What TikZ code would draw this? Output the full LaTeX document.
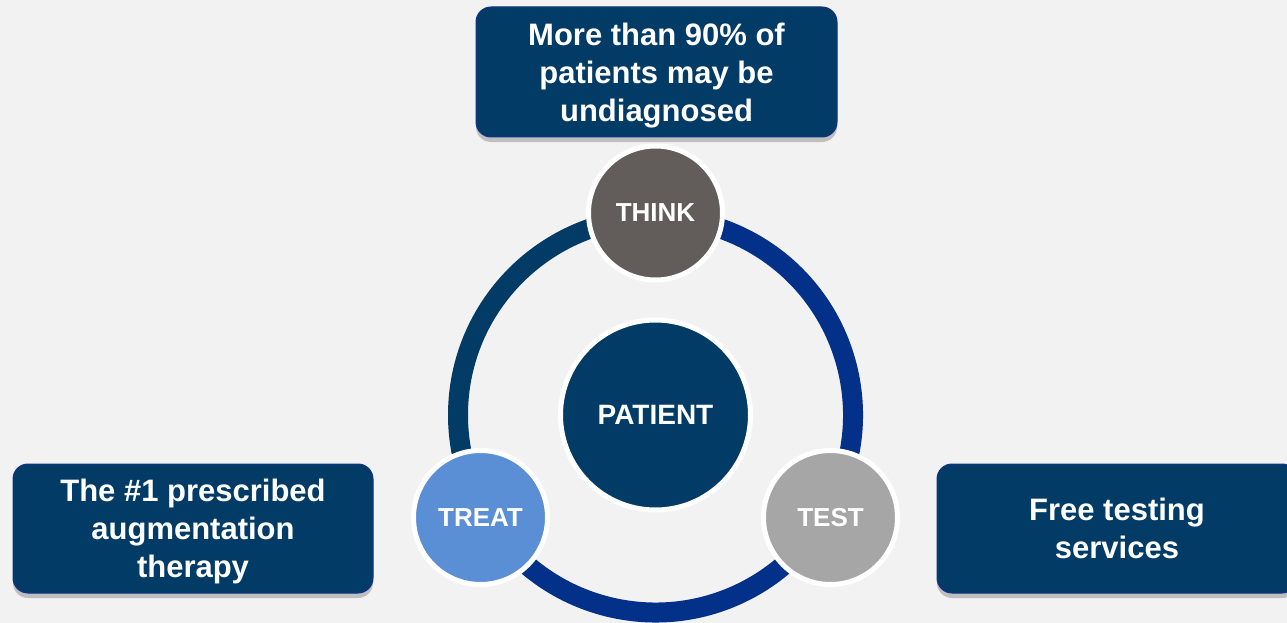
\documentclass[tikz,border=0pt]{standalone}
\usepackage{fontspec}
\setmainfont{Liberation Sans}
\usetikzlibrary{shadows}
\definecolor{bg}{HTML}{F2F2F2}
\definecolor{navy}{HTML}{023B65}
\definecolor{royal}{HTML}{033088}
\definecolor{boxedge}{HTML}{13338A}
\definecolor{thinkc}{HTML}{625D5A}
\definecolor{treatc}{HTML}{5A8ED5}
\definecolor{testc}{HTML}{A6A6A6}
\tikzset{
  infobox/.style={rectangle, rounded corners=15pt, fill=navy, draw=boxedge, line width=1pt,
    text=white, align=center, font=\bfseries\fontsize{31}{38}\selectfont,
    minimum width=360pt, minimum height=129pt, inner sep=0pt, text depth=0pt,
    drop shadow={shadow xshift=0pt, shadow yshift=-5pt, opacity=0.3, fill=black!70}},
  stage/.style={circle, draw=white, line width=5pt, minimum size=134pt, inner sep=0pt,
    text=white, font=\bfseries\fontsize{26}{30}\selectfont},
  ring/.style={line width=20pt}
}
\begin{document}
\begin{tikzpicture}[x=1pt,y=-1pt]
\fill[bg] (0,0) rectangle (1287,623);
\useasboundingbox (0,0) rectangle (1287,623);
\clip (0,0) rectangle (1287,623);
\coordinate (c) at (655.5,415);
% ring arcs (angles negated because the y axis points down)
\draw[ring, navy] ([shift={(-90:197.5)}]c) arc[start angle=-90, end angle=-210, radius=197.5];
\draw[ring, royal] ([shift={(30:197.5)}]c) arc[start angle=30, end angle=-90, radius=197.5];
\draw[ring, royal] ([shift={(-210:197.5)}]c) arc[start angle=-210, end angle=-330, radius=197.5];
% circles
\node[stage, fill=navy, minimum size=190pt, font=\bfseries\fontsize{28}{32}\selectfont] (patient) at (c) {PATIENT};
\node[stage, fill=thinkc] (think) at (655.5,213) {THINK};
\node[stage, fill=treatc] (treat) at (480.5,517.5) {TREAT};
\node[stage, fill=testc] (test) at (830.5,517.5) {TEST};
% boxes
\node[infobox, minimum width=361pt, minimum height=130pt] (top) at (656.5,72) {More than 90\% of\\patients may be\\undiagnosed};
\node[infobox] (left) at (193,528.5) {The \#1 prescribed\\augmentation\\therapy};
\node[infobox] (right) at (1117,528.5) {Free testing\\services};
\end{tikzpicture}
\end{document}
